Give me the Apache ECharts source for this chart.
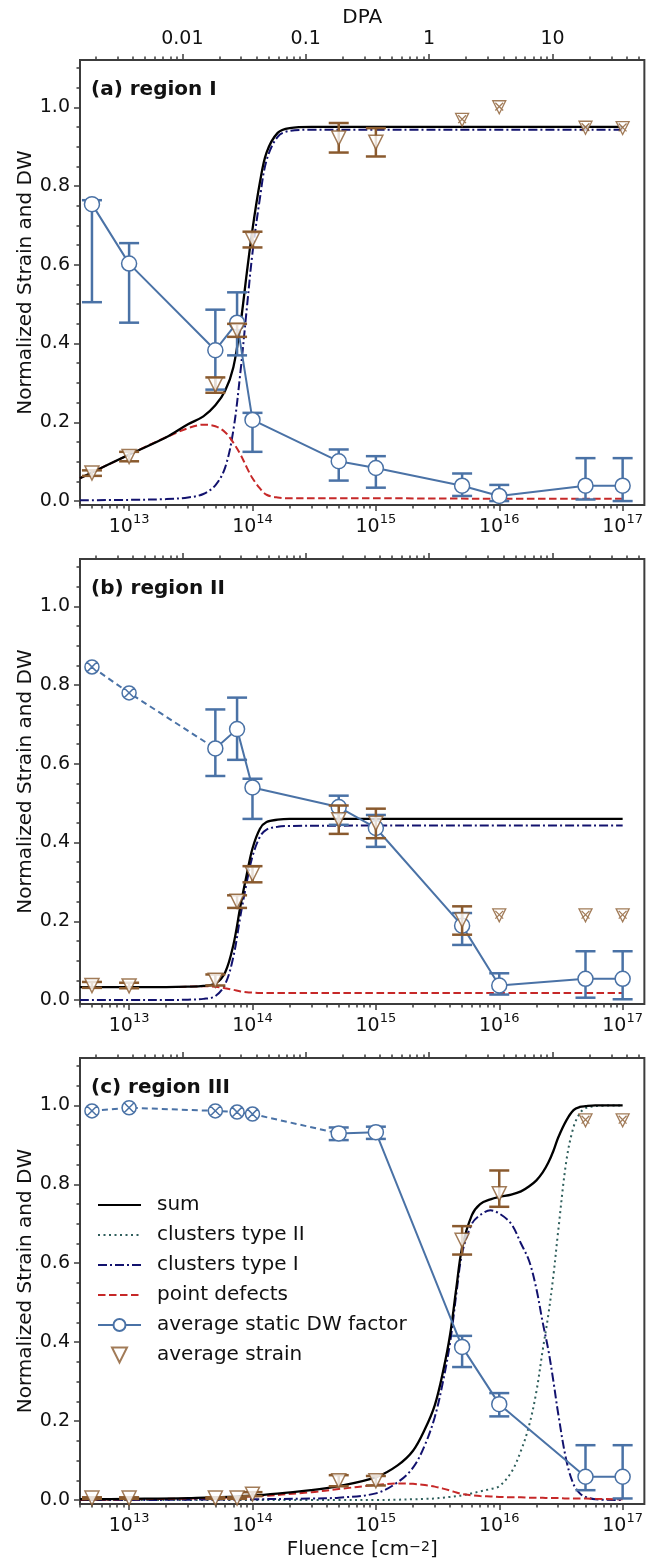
<!DOCTYPE html>
<html>
<head>
<meta charset="utf-8">
<script src="https://cdn.jsdelivr.net/npm/echarts@6/dist/echarts.min.js"></script>
<style>
  html, body { margin: 0; padding: 0; background: #fff; }
  #chart { width: 646px; height: 1563px; }
</style>
</head>
<body>
<div id="chart"></div>
<script>
// axes
const X_MIN = 4e12, X_MAX = 1.5e17;
const FLUENCE_PER_DPA = 2.7e15;
const FLUENCE_TICKS = [1e13, 1e14, 1e15, 1e16, 1e17];
const DPA_TICKS = [0.01, 0.1, 1, 10];
const Y_TICKS = [0, 0.2, 0.4, 0.6, 0.8, 1.0];
const PANEL_TITLES = ['(a) region I', '(b) region II', '(c) region III'];
const LEGEND_NAMES = ['sum', 'clusters type II', 'clusters type I', 'point defects', 'average static DW factor', 'average strain'];

// (a) region I
const A_FIT_X = [4e12, 1e13, 2e13, 3e13, 4e13, 5e13, 6e13, 7e13, 8e13, 9e13, 1e14, 1.15e14, 1.3e14, 1.6e14, 2e14, 3e14, 1e15, 1e16, 1e17];
const A_SUM = [0.058, 0.118, 0.162, 0.195, 0.215, 0.243, 0.28, 0.34, 0.45, 0.58, 0.69, 0.81, 0.885, 0.935, 0.947, 0.95, 0.95, 0.95, 0.95];
const A_PD = [0.058, 0.118, 0.162, 0.185, 0.194, 0.19, 0.175, 0.148, 0.118, 0.085, 0.058, 0.032, 0.016, 0.009, 0.007, 0.007, 0.007, 0.006, 0.006];
const A_C1 = [0.002, 0.003, 0.005, 0.009, 0.018, 0.04, 0.085, 0.18, 0.33, 0.49, 0.63, 0.77, 0.865, 0.925, 0.94, 0.943, 0.943, 0.943, 0.943];
const A_DW_X = [5e12, 1e13, 5e13, 7.5e13, 1e14, 5e14, 1e15, 5e15, 1e16, 5e16, 1e17];
const A_DW = [0.754, 0.603, 0.383, 0.453, 0.206, 0.101, 0.084, 0.039, 0.013, 0.039, 0.039];
const A_DW_LO = [0.505, 0.453, 0.283, 0.37, 0.125, 0.052, 0.034, 0.013, 0.0, 0.004, 0.0];
const A_DW_HI = [0.764, 0.655, 0.486, 0.53, 0.224, 0.131, 0.114, 0.07, 0.041, 0.109, 0.109];
const A_ST_X = [5e12, 1e13, 5e13, 7.5e13, 1e14, 5e14, 1e15];
const A_ST = [0.071, 0.113, 0.295, 0.433, 0.664, 0.922, 0.911];
const A_ST_LO = [0.064, 0.101, 0.275, 0.417, 0.644, 0.885, 0.875];
const A_ST_HI = [0.078, 0.125, 0.314, 0.45, 0.684, 0.96, 0.947];
const A_STX_X = [5e15, 1e16, 5e16, 1e17];
const A_STX = [0.968, 1.0, 0.948, 0.947];

// (b) region II
const B_FIT_X = [4e12, 1e13, 2e13, 3e13, 4e13, 5e13, 6e13, 7e13, 8e13, 9e13, 1e14, 1.15e14, 1.3e14, 1.6e14, 2e14, 1e15, 1e16, 1e17];
const B_SUM = [0.033, 0.033, 0.033, 0.034, 0.036, 0.042, 0.07, 0.14, 0.24, 0.32, 0.385, 0.435, 0.452, 0.458, 0.46, 0.46, 0.46, 0.46];
const B_PD = [0.033, 0.033, 0.033, 0.034, 0.035, 0.034, 0.03, 0.026, 0.022, 0.02, 0.019, 0.018, 0.018, 0.018, 0.018, 0.018, 0.018, 0.018];
const B_C1 = [0.0, 0.0, 0.0, 0.001, 0.003, 0.01, 0.04, 0.11, 0.215, 0.3, 0.365, 0.415, 0.433, 0.44, 0.442, 0.443, 0.443, 0.443];
const B_DWE_X = [5e12, 1e13];
const B_DWE = [0.846, 0.78];
const B_DW_X = [5e13, 7.5e13, 1e14, 5e14, 1e15, 5e15, 1e16, 5e16, 1e17];
const B_DW = [0.639, 0.688, 0.54, 0.49, 0.437, 0.189, 0.037, 0.054, 0.054];
const B_DW_LO = [0.569, 0.61, 0.46, 0.445, 0.389, 0.14, 0.014, 0.006, 0.002];
const B_DW_HI = [0.738, 0.768, 0.562, 0.519, 0.47, 0.221, 0.068, 0.124, 0.124];
const B_ST_X = [5e12, 1e13, 5e13, 7.5e13, 1e14, 5e14, 1e15, 5e15];
const B_ST = [0.037, 0.036, 0.05, 0.251, 0.32, 0.458, 0.449, 0.203];
const B_ST_LO = [0.031, 0.03, 0.037, 0.234, 0.299, 0.422, 0.411, 0.166];
const B_ST_HI = [0.046, 0.044, 0.065, 0.266, 0.34, 0.494, 0.486, 0.238];
const B_STX_X = [1e16, 5e16, 1e17];
const B_STX = [0.215, 0.215, 0.215];

// (c) region III
const C_FIT_X = [4e12, 1e13, 3e13, 1e14, 3e14, 5e14, 1e15, 1.5e15, 2e15, 2.5e15, 3e15, 3.5e15, 4e15, 4.5e15, 5e15, 6e15, 7e15, 8.5e15, 1e16, 1.25e16, 1.5e16, 1.75e16, 2e16, 2.25e16, 2.5e16, 2.75e16, 3e16, 3.5e16, 4e16, 4.5e16, 5e16, 6e16, 1e17];
const C_SUM = [0.002, 0.003, 0.005, 0.011, 0.025, 0.035, 0.058, 0.088, 0.125, 0.18, 0.24, 0.325, 0.42, 0.54, 0.64, 0.722, 0.75, 0.762, 0.768, 0.774, 0.782, 0.795, 0.81, 0.83, 0.855, 0.885, 0.918, 0.962, 0.988, 0.996, 0.998, 1.0, 1.0];
const C_PD = [0.001, 0.002, 0.004, 0.009, 0.02, 0.028, 0.038, 0.042, 0.041, 0.038, 0.034, 0.029, 0.024, 0.019, 0.015, 0.012, 0.01, 0.009, 0.008, 0.007, 0.007, 0.006, 0.006, 0.006, 0.005, 0.005, 0.005, 0.004, 0.004, 0.004, 0.004, 0.003, 0.002];
const C_C1 = [0.0, 0.0, 0.001, 0.002, 0.004, 0.006, 0.017, 0.045, 0.082, 0.14, 0.21, 0.3, 0.4, 0.525, 0.625, 0.7, 0.722, 0.734, 0.726, 0.7, 0.65, 0.605, 0.535, 0.45, 0.38, 0.3, 0.22, 0.1, 0.04, 0.017, 0.008, 0.002, 0.0];
const C_C2 = [0.0, 0.0, 0.0, 0.0, 0.0, 0.0, 0.0, 0.001, 0.002, 0.003, 0.004, 0.006, 0.008, 0.01, 0.012, 0.017, 0.022, 0.028, 0.035, 0.07, 0.125, 0.19, 0.275, 0.38, 0.47, 0.57, 0.68, 0.86, 0.945, 0.98, 0.993, 0.998, 1.0];
const C_DWE_X = [5e12, 1e13, 5e13, 7.5e13, 1e14];
const C_DWE = [0.986, 0.994, 0.986, 0.983, 0.978];
const C_DW_X = [5e14, 1e15, 5e15, 1e16, 5e16, 1e17];
const C_DW = [0.929, 0.932, 0.388, 0.243, 0.059, 0.059];
const C_DW_LO = [0.912, 0.915, 0.337, 0.212, 0.025, 0.004];
const C_DW_HI = [0.944, 0.946, 0.416, 0.271, 0.139, 0.139];
const C_ST_X = [5e12, 1e13, 5e13, 7.5e13, 1e14, 5e14, 1e15, 5e15, 1e16];
const C_ST = [0.005, 0.005, 0.005, 0.005, 0.015, 0.049, 0.049, 0.658, 0.776];
const C_ST_LO = [0.003, 0.003, 0.003, 0.003, 0.01, 0.035, 0.037, 0.622, 0.743];
const C_ST_HI = [0.007, 0.007, 0.007, 0.007, 0.02, 0.063, 0.061, 0.694, 0.835];
const C_STX_X = [5e16, 1e17];
const C_STX = [0.962, 0.962];

const BLUE = '#4a72a6', BROWN = '#8a5a2e', RED = '#c62828', NAVY = '#12126e', TEAL = '#2f5f5c';
const AX = '#3c3c3c';
const FONT = '"DejaVu Sans", sans-serif';
const GRID_TOPS = [60, 559, 1058], GRID_H = [445, 445, 446];

const TRI_DOWN = 'path://M0,0L20,0L10,20Z';
const CROSS_TRI = 'path://M0,0L20,0L10,20Z M4,3L16,15 M16,3L4,15';
const CROSS_CIRCLE = 'path://M2,12A10,10 0 1,1 22,12A10,10 0 1,1 2,12Z M4.93,4.93L19.07,19.07 M19.07,4.93L4.93,19.07';

const panels = [
  {fitX: A_FIT_X, sum: A_SUM, pd: A_PD, c1: A_C1, dwX: A_DW_X, dw: A_DW, dwLo: A_DW_LO, dwHi: A_DW_HI,
   stX: A_ST_X, st: A_ST, stLo: A_ST_LO, stHi: A_ST_HI, stxX: A_STX_X, stx: A_STX},
  {fitX: B_FIT_X, sum: B_SUM, pd: B_PD, c1: B_C1, dweX: B_DWE_X, dwe: B_DWE, dwX: B_DW_X, dw: B_DW, dwLo: B_DW_LO, dwHi: B_DW_HI,
   stX: B_ST_X, st: B_ST, stLo: B_ST_LO, stHi: B_ST_HI, stxX: B_STX_X, stx: B_STX},
  {fitX: C_FIT_X, sum: C_SUM, pd: C_PD, c1: C_C1, c2: C_C2, dweX: C_DWE_X, dwe: C_DWE, dwX: C_DW_X, dw: C_DW, dwLo: C_DW_LO, dwHi: C_DW_HI,
   stX: C_ST_X, st: C_ST, stLo: C_ST_LO, stHi: C_ST_HI, stxX: C_STX_X, stx: C_STX}
];

function pairs(xs, ys) { return xs.map((x, i) => [x, ys[i]]); }

// 2..9 x 10^n between lo and hi
function minorLog(lo, hi) {
  const out = [];
  for (let e = Math.floor(Math.log10(lo)); e <= Math.ceil(Math.log10(hi)); e++) {
    for (let m = 2; m <= 9; m++) {
      const v = +(m * Math.pow(10, e)).toPrecision(6);
      if (v >= lo && v <= hi) out.push(v);
    }
  }
  return out;
}
const Y_MINOR = [];
for (let k = 1; k <= 22; k++) { if (k % 4 !== 0) Y_MINOR.push(+(k * 0.05).toFixed(2)); }

const tickLine = {color: AX, width: 1.5};
const rich10 = {
  b: {fontSize: 19, lineHeight: 24, verticalAlign: 'bottom', fontFamily: FONT, color: '#111'},
  e: {fontSize: 13, lineHeight: 13, verticalAlign: 'top', fontFamily: FONT, color: '#111'}
};

const xAxes = [], yAxes = [], grids = [], titles = [];
[0, 1, 2].forEach(p => {
  grids.push({left: 80, width: 565, top: GRID_TOPS[p], height: GRID_H[p], show: true,
    borderColor: AX, borderWidth: 2, backgroundColor: 'transparent'});
  titles.push({text: PANEL_TITLES[p], left: 91, top: GRID_TOPS[p] + 18, padding: 0,
    textStyle: {fontFamily: FONT, fontWeight: 'bold', fontSize: 20, lineHeight: 24, color: '#111'}});
  const base = {gridIndex: p, type: 'log', logBase: 10, splitLine: {show: false},
    axisLine: {show: false, onZero: false}, nameMoveOverlap: false};
  // fluence, bottom
  xAxes.push(Object.assign({}, base, {
    position: 'bottom', min: X_MIN, max: X_MAX,
    axisTick: {length: 6, lineStyle: tickLine, customValues: FLUENCE_TICKS},
    axisLabel: {customValues: FLUENCE_TICKS, margin: 8, rich: rich10,
      formatter: v => '{b|10}{e|' + Math.round(Math.log10(v)) + '}'},
    name: p === 2 ? 'Fluence [cm{e|\u22122}]' : '', nameLocation: 'middle', nameGap: 36,
    nameTextStyle: {fontFamily: FONT, fontSize: 20, color: '#111',
      rich: {e: {fontSize: 14, lineHeight: 14, verticalAlign: 'top', fontFamily: FONT, color: '#111'}}}
  }));
  xAxes.push(Object.assign({}, base, {
    position: 'bottom', min: X_MIN, max: X_MAX,
    axisTick: {length: 3.5, lineStyle: tickLine, customValues: minorLog(X_MIN, X_MAX)},
    axisLabel: {show: false}
  }));
  // DPA, top
  const dMin = X_MIN / FLUENCE_PER_DPA, dMax = X_MAX / FLUENCE_PER_DPA;
  xAxes.push(Object.assign({}, base, {
    position: 'top', min: dMin, max: dMax,
    axisTick: {length: 6, lineStyle: tickLine, customValues: DPA_TICKS},
    axisLabel: {show: p === 0, customValues: DPA_TICKS, margin: 11, fontFamily: FONT, fontSize: 19, color: '#111',
      formatter: v => String(v)},
    name: p === 0 ? 'DPA' : '', nameLocation: 'middle', nameGap: 32,
    nameTextStyle: {fontFamily: FONT, fontSize: 20, color: '#111'}
  }));
  xAxes.push(Object.assign({}, base, {
    position: 'top', min: dMin, max: dMax,
    axisTick: {length: 3.5, lineStyle: tickLine, customValues: minorLog(dMin, dMax)},
    axisLabel: {show: false}
  }));
  const ybase = {gridIndex: p, type: 'value', min: -0.01, max: 1.12, position: 'left',
    splitLine: {show: false}, axisLine: {show: false, onZero: false}, nameMoveOverlap: false};
  yAxes.push(Object.assign({}, ybase, {
    axisTick: {length: 6, lineStyle: tickLine, customValues: Y_TICKS},
    axisLabel: {customValues: Y_TICKS, margin: 10, fontFamily: FONT, fontSize: 19, color: '#111',
      formatter: v => v.toFixed(1)},
    name: 'Normalized Strain and DW', nameLocation: 'middle', nameGap: 44,
    nameTextStyle: {fontFamily: FONT, fontSize: 20, color: '#111'}
  }));
  yAxes.push(Object.assign({}, ybase, {
    axisTick: {length: 3.5, lineStyle: tickLine, customValues: Y_MINOR},
    axisLabel: {show: false}
  }));
});

function errorBars(p, xs, lo, hi, color, z) {
  return {
    type: 'custom', xAxisIndex: 4 * p, yAxisIndex: 2 * p, z: z, silent: true,
    data: xs.map((x, i) => [x, lo[i], hi[i]]),
    encode: {x: 0, y: [1, 2]},
    renderItem: function (params, api) {
      const top = api.coord([api.value(0), api.value(2)]);
      const bot = api.coord([api.value(0), api.value(1)]);
      const w = 10;
      const st = {stroke: color, lineWidth: 2.5};
      return {type: 'group', children: [
        {type: 'line', shape: {x1: top[0], y1: top[1], x2: bot[0], y2: bot[1]}, style: st},
        {type: 'line', shape: {x1: top[0] - w, y1: top[1], x2: top[0] + w, y2: top[1]}, style: st},
        {type: 'line', shape: {x1: bot[0] - w, y1: bot[1], x2: bot[0] + w, y2: bot[1]}, style: st}
      ]};
    }
  };
}

const series = [];
panels.forEach((P, p) => {
  const ax = {xAxisIndex: 4 * p, yAxisIndex: 2 * p};
  const curve = (name, ys, lineStyle, z) => Object.assign({
    type: 'line', name: name, data: pairs(P.fitX, ys), symbol: 'none', smooth: 0.35,
    itemStyle: {color: lineStyle.color}, lineStyle: lineStyle, z: z}, ax);
  series.push(curve('sum', P.sum, {color: '#000', width: 2.3}, 4));
  if (P.c2) series.push(curve('clusters type II', P.c2, {color: TEAL, width: 2, type: [2, 3.5]}, 3));
  series.push(curve('clusters type I', P.c1, {color: NAVY, width: 2, type: [9, 3, 2, 3]}, 3));
  series.push(curve('point defects', P.pd, {color: RED, width: 2, type: [7.5, 3.5]}, 3));
  if (P.dweX) {
    const d = pairs(P.dweX, P.dwe);
    d.push({value: [P.dwX[0], P.dw[0]], symbol: 'none'});
    series.push(Object.assign({type: 'line', name: 'dw estimate', data: d,
      symbol: CROSS_CIRCLE, symbolSize: 14,
      itemStyle: {color: '#fff', borderColor: BLUE, borderWidth: 1.5},
      lineStyle: {color: BLUE, width: 2, type: [6, 4]}, z: 6}, ax));
  }
  series.push(errorBars(p, P.dwX, P.dwLo, P.dwHi, BLUE, 5));
  series.push(Object.assign({type: 'line', name: 'average static DW factor', data: pairs(P.dwX, P.dw),
    symbol: 'circle', symbolSize: 15,
    itemStyle: {color: '#fff', borderColor: BLUE, borderWidth: 1.5},
    lineStyle: {color: BLUE, width: 2}, z: 6}, ax));
  series.push(errorBars(p, P.stX, P.stLo, P.stHi, BROWN, 7));
  series.push(Object.assign({type: 'scatter', name: 'average strain', data: pairs(P.stX, P.st),
    symbol: TRI_DOWN, symbolSize: 14,
    itemStyle: {color: '#fff', borderColor: BROWN, borderWidth: 1.5}, z: 8}, ax));
  series.push(Object.assign({type: 'scatter', name: 'strain saturated', data: pairs(P.stxX, P.stx),
    symbol: CROSS_TRI, symbolSize: 13,
    itemStyle: {color: '#fff', borderColor: BROWN, borderWidth: 1.3}, z: 8}, ax));
});

// curve entries in the legend show only their line
const legendData = LEGEND_NAMES.map((n, i) => i < 4 ? {name: n, itemStyle: {opacity: 0}} : {name: n});

const chart = echarts.init(document.getElementById('chart'), null, {renderer: 'canvas'});
chart.setOption({
  animation: false,
  backgroundColor: '#fff',
  textStyle: {fontFamily: FONT},
  title: titles,
  grid: grids,
  xAxis: xAxes,
  yAxis: yAxes,
  legend: {
    data: legendData, orient: 'vertical', left: 97, top: 1195, padding: 0,
    itemWidth: 43, itemHeight: 15, itemGap: 10,
    textStyle: {fontFamily: FONT, fontSize: 20, lineHeight: 20, color: '#111', padding: [0, 0, 0, 11]}
  },
  series: series
});
</script>
</body>
</html>
